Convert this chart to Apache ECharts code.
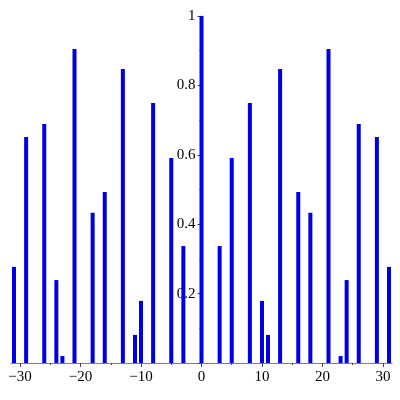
<!DOCTYPE html>
<html>
<head>
<meta charset="utf-8">
<script src="https://cdn.jsdelivr.net/npm/echarts@6/dist/echarts.min.js"></script>
<style>
  html, body { margin: 0; padding: 0; background: #fff; }
  #chart { width: 400px; height: 400px; }
</style>
</head>
<body>
<div id="chart"></div>
<script>
  // bar positions and heights
  var xs = [-31, -29, -26, -24, -23, -21, -18, -16, -13, -11, -10, -8, -5, -3, 0,
            3, 5, 8, 10, 11, 13, 16, 18, 21, 23, 24, 26, 29, 31];
  var ys = [0.277, 0.651, 0.689, 0.239, 0.02, 0.905, 0.433, 0.493, 0.847, 0.081, 0.179, 0.749, 0.591, 0.337, 1,
            0.337, 0.591, 0.749, 0.179, 0.081, 0.847, 0.493, 0.433, 0.905, 0.02, 0.239, 0.689, 0.651, 0.277];
  var xMajor = [-30, -20, -10, 0, 10, 20, 30];
  var xMinor = [-25, -15, -5, 5, 15, 25];

  var data = [];
  for (var i = 0; i < xs.length; i++) {
    data.push([xs[i], ys[i]]);
  }

  var font = '"Liberation Serif", "DejaVu Serif", serif';
  var axisGray = '#808080';

  var option = {
    animation: false,
    backgroundColor: '#fff',
    grid: { left: 11, right: 8, top: 16, bottom: 37, containLabel: false, outerBoundsMode: 'none' },
    xAxis: [
      {
        type: 'value',
        min: -31.5,
        max: 31.5,
        splitLine: { show: false },
        axisLine: { onZero: false, lineStyle: { color: axisGray, width: 1 } },
        axisTick: { customValues: xMajor, length: 4, lineStyle: { color: '#444' } },
        axisLabel: {
          customValues: xMajor,
          margin: 7,
          fontFamily: font,
          fontSize: 15,
          color: '#000',
          formatter: function (v) { return String(v).replace('-', '\u2212'); }
        }
      },
      {
        type: 'value',
        position: 'bottom',
        min: -31.5,
        max: 31.5,
        splitLine: { show: false },
        axisLine: { show: false, onZero: false },
        axisTick: { customValues: xMinor, length: 2, lineStyle: { color: '#444' } },
        axisLabel: { show: false }
      }
    ],
    yAxis: {
      type: 'value',
      position: 'left',
      offset: -190.5, // put the axis at x = 0
      min: 0,
      max: 1,
      interval: 0.2,
      splitLine: { show: false },
      axisLine: { show: true, onZero: false, lineStyle: { color: axisGray } },
      axisTick: { length: 4, lineStyle: { color: '#444' } },
      minorTick: { show: true, splitNumber: 2, length: 2, lineStyle: { color: '#444' } },
      axisLabel: {
        margin: 6,
        fontFamily: font,
        fontSize: 15,
        color: '#000',
        formatter: function (v) { return v === 0 ? '' : String(v); }
      }
    },
    series: [
      {
        type: 'bar',
        xAxisIndex: 0,
        data: data,
        barWidth: 4,
        itemStyle: { color: '#0000e6' }
      }
    ]
  };

  var myChart = echarts.init(document.getElementById('chart'));
  myChart.setOption(option);
</script>
</body>
</html>
